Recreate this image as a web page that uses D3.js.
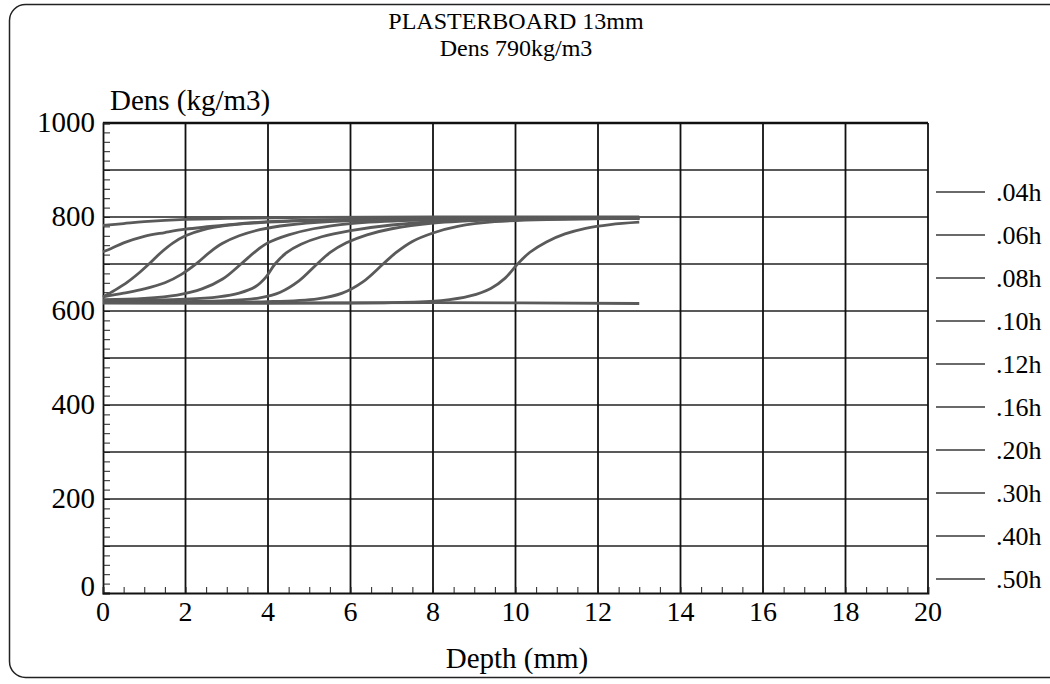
<!DOCTYPE html>
<html>
<head>
<meta charset="utf-8">
<script src="https://cdn.jsdelivr.net/npm/d3@7"></script>
<style>
  html, body { margin: 0; padding: 0; background: #fff; }
  svg { display: block; font-family: "Liberation Serif", "DejaVu Serif", serif; }
</style>
</head>
<body>
<div id="chart"></div>
<script>
// Density profiles through 13 mm plasterboard, one curve per exposure time
const titleLines = ['PLASTERBOARD 13mm', 'Dens 790kg/m3'];
const xTicks = [0, 2, 4, 6, 8, 10, 12, 14, 16, 18, 20];
const yTicks = [0, 200, 400, 600, 800, 1000];
const legendLabels = ['.04h', '.06h', '.08h', '.10h', '.12h', '.16h', '.20h', '.30h', '.40h', '.50h'];

// [depth mm, density kg/m3]
const p04 = [[0, 782], [0.5, 786], [1, 790], [2, 795], [3, 797], [5, 799], [8, 800], [13, 800]];
const p06 = [[0, 726], [0.2, 733], [0.5, 745], [1.0, 759], [1.5, 767], [2.0, 774], [3.0, 783], [4.0, 790], [6, 795], [13, 798]];
const p08 = [[0, 630], [0.3, 645], [0.6, 662], [0.9, 683], [1.14, 702], [1.4, 724], [1.7, 745], [2.0, 760], [2.4, 772], [3.0, 782], [4, 789], [6, 794], [13, 797]];
const p10 = [[0, 630], [0.5, 638], [1.0, 647], [1.5, 660], [1.9, 678], [2.28, 702], [2.6, 726], [2.9, 744], [3.3, 760], [3.8, 773], [4.5, 783], [5.5, 790], [7, 794], [13, 797]];
const p12 = [[0, 624], [1, 627], [1.8, 634], [2.4, 647], [2.9, 668], [3.37, 702], [3.7, 727], [4.0, 745], [4.5, 762], [5.1, 775], [6.0, 786], [7.5, 793], [13, 797]];
const p16 = [[0, 622], [2, 625], [2.8, 630], [3.3, 638], [3.7, 652], [3.95, 672], [4.17, 700], [4.45, 724], [4.8, 742], [5.3, 758], [6.0, 771], [7.0, 783], [8.5, 792], [13, 797]];
const p20 = [[0, 620], [3, 622], [3.8, 628], [4.3, 640], [4.75, 664], [5.19, 700], [5.5, 724], [5.9, 745], [6.4, 762], [7.0, 775], [8.0, 787], [9.5, 794], [13, 797]];
const p30 = [[0, 620], [4, 620], [5.2, 626], [5.8, 638], [6.3, 662], [6.79, 700], [7.1, 724], [7.5, 748], [8.0, 766], [8.6, 780], [9.5, 790], [11, 795], [13, 797]];
const p40 = [[0, 618], [7, 618], [8.2, 622], [8.9, 632], [9.4, 648], [9.75, 670], [10.05, 700], [10.35, 725], [10.75, 747], [11.2, 764], [11.7, 776], [12.3, 784], [13, 789]];
const p50 = [[0, 617], [4, 617], [8, 618], [13, 616]];
const profiles = [p04, p06, p08, p10, p12, p16, p20, p30, p40, p50];

const W = 1050, H = 684;
const PLOT = { left: 103, right: 928, top: 123, bottom: 593 };

const svg = d3.select('#chart').append('svg')
  .attr('width', W)
  .attr('height', H);

// outer rounded frame (right edge runs off the page)
svg.append('rect')
  .attr('x', 9.5).attr('y', 4.5)
  .attr('width', 1060).attr('height', 673)
  .attr('rx', 16).attr('ry', 16)
  .attr('fill', 'none')
  .attr('stroke', '#222')
  .attr('stroke-width', 1.5);

const x = d3.scaleLinear().domain([0, 20]).range([PLOT.left, PLOT.right]);
const y = d3.scaleLinear().domain([0, 1000]).range([PLOT.bottom, PLOT.top]);

const g = svg.append('g');

// horizontal grid every 100
g.append('g')
  .selectAll('line')
  .data(d3.range(100, 1000, 100))
  .join('line')
  .attr('x1', PLOT.left).attr('x2', PLOT.right)
  .attr('y1', d => y(d)).attr('y2', d => y(d))
  .attr('stroke', '#222')
  .attr('stroke-width', 1.3);

// vertical grid every 2 mm
g.append('g')
  .selectAll('line')
  .data(xTicks.slice(1))
  .join('line')
  .attr('x1', d => x(d)).attr('x2', d => x(d))
  .attr('y1', PLOT.top).attr('y2', PLOT.bottom)
  .attr('stroke', '#111')
  .attr('stroke-width', 1.8);

// top edge of the frame
g.append('line')
  .attr('x1', PLOT.left).attr('x2', PLOT.right)
  .attr('y1', PLOT.top).attr('y2', PLOT.top)
  .attr('stroke', '#111').attr('stroke-width', 2.4);

// Y axis with minor ticks pointing inward
const yAxis = g.append('g')
  .attr('transform', `translate(${PLOT.left},0)`)
  .call(d3.axisRight(y).tickValues(d3.range(0, 1001, 20)).tickSize(7).tickFormat(''));
yAxis.select('.domain').attr('stroke', '#111').attr('stroke-width', 1.8);
yAxis.selectAll('.tick line').attr('stroke', '#222').attr('stroke-width', 1);

// X axis with minor ticks pointing up
const xAxis = g.append('g')
  .attr('transform', `translate(0,${PLOT.bottom})`)
  .call(d3.axisTop(x).tickValues(d3.range(0, 20.01, 0.5)).tickSize(6).tickFormat(''));
xAxis.select('.domain').attr('stroke', '#111').attr('stroke-width', 1.8);
xAxis.selectAll('.tick line').attr('stroke', '#222').attr('stroke-width', 1);

// tick labels
g.append('g')
  .selectAll('text')
  .data(yTicks)
  .join('text')
  .attr('x', PLOT.left - 8)
  .attr('y', d => y(d))
  .attr('dy', d => d === 0 ? '0.12em' : '0.3em')
  .attr('text-anchor', 'end')
  .attr('font-size', 29)
  .text(d => d);

g.append('g')
  .selectAll('text')
  .data(xTicks)
  .join('text')
  .attr('x', d => x(d))
  .attr('y', PLOT.bottom + 28)
  .attr('text-anchor', 'middle')
  .attr('font-size', 28)
  .text(d => d);

// titles
svg.append('g')
  .selectAll('text')
  .data(titleLines)
  .join('text')
  .attr('x', 516)
  .attr('y', (d, i) => 29 + i * 27)
  .attr('text-anchor', 'middle')
  .attr('font-size', 24)
  .text(d => d);

svg.append('text')
  .attr('x', 110).attr('y', 110)
  .attr('font-size', 29)
  .text('Dens (kg/m3)');

svg.append('text')
  .attr('x', 517).attr('y', 668)
  .attr('text-anchor', 'middle')
  .attr('font-size', 29)
  .text('Depth (mm)');

// density profiles
const line = d3.line()
  .x(d => x(d[0]))
  .y(d => y(d[1]))
  .curve(d3.curveCatmullRom.alpha(0.5));

g.append('g')
  .selectAll('path')
  .data(profiles)
  .join('path')
  .attr('d', line)
  .attr('fill', 'none')
  .attr('stroke', '#5a5a5a')
  .attr('stroke-width', 2.8)
  .attr('stroke-linejoin', 'round');

// legend on the right
const legend = svg.append('g')
  .selectAll('g')
  .data(legendLabels)
  .join('g')
  .attr('transform', (d, i) => `translate(0,${192 + i * 43})`);

legend.append('line')
  .attr('x1', 936).attr('x2', 985)
  .attr('stroke', '#6a6a6a')
  .attr('stroke-width', 2);

legend.append('text')
  .attr('x', 996)
  .attr('dy', '0.34em')
  .attr('font-size', 26)
  .text(d => d);
</script>
</body>
</html>
